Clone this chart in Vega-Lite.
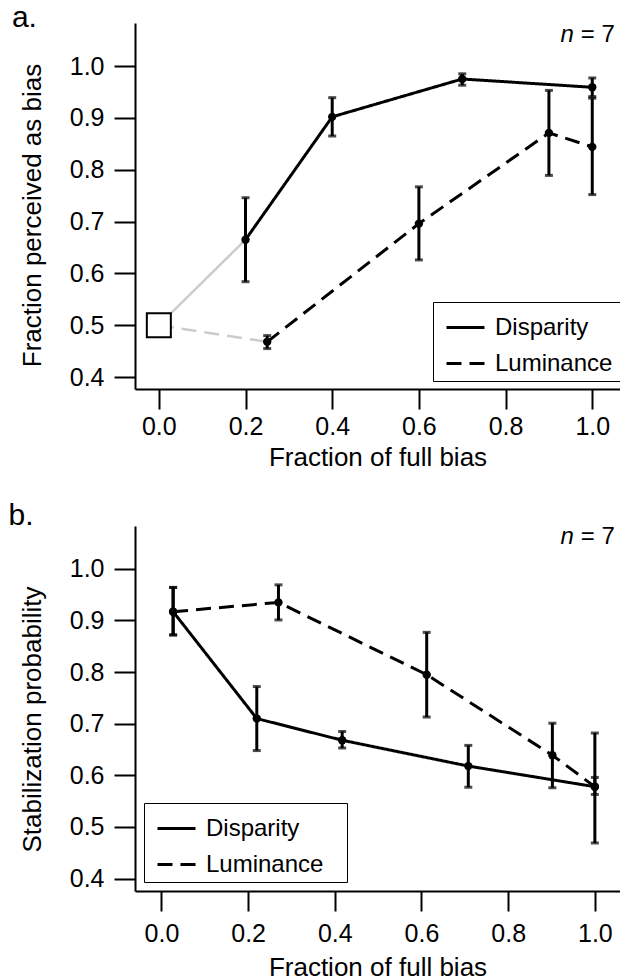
{
  "$schema": "https://vega.github.io/schema/vega-lite/v6.json",
  "padding": {"left": 8, "top": 2, "right": 0, "bottom": 0},
  "background": "white",
  "spacing": 30,
  "config": {
    "font": "Liberation Sans",
    "view": {"stroke": null},
    "axis": {"grid": false, "domainColor": "black", "domainWidth": 2, "tickColor": "black", "tickWidth": 2, "tickSize": 20, "labelColor": "black", "labelFontSize": 25, "labelFont": "Liberation Sans", "titleColor": "black", "titleFontSize": 26, "titleFontWeight": "normal", "titleFont": "Liberation Sans"},
    "axisX": {"labelPadding": 5, "titlePadding": 6},
    "axisY": {"labelPadding": 10, "titlePadding": 24, "tickSize": 21},
    "legend": {"labelFontSize": 24, "labelColor": "black", "labelFont": "Liberation Sans", "symbolType": "stroke", "symbolSize": 1444, "symbolStrokeWidth": 3, "symbolStrokeColor": "black", "strokeColor": "black", "fillColor": "white", "padding": 5, "rowPadding": 3, "symbolOffset": 7, "labelOffset": 9, "labelLimit": 300}
  },
  "datasets": {
    "a": [
      {"series": "Disparity", "x": 0.2, "y": 0.665, "lo": 0.584, "hi": 0.746},
      {"series": "Disparity", "x": 0.4, "y": 0.902, "lo": 0.865, "hi": 0.939},
      {"series": "Disparity", "x": 0.7, "y": 0.975, "lo": 0.963, "hi": 0.985},
      {"series": "Disparity", "x": 1.0, "y": 0.959, "lo": 0.941, "hi": 0.977},
      {"series": "Luminance", "x": 0.25, "y": 0.468, "lo": 0.455, "hi": 0.48},
      {"series": "Luminance", "x": 0.6, "y": 0.696, "lo": 0.626, "hi": 0.767},
      {"series": "Luminance", "x": 0.9, "y": 0.871, "lo": 0.789, "hi": 0.953},
      {"series": "Luminance", "x": 1.0, "y": 0.844, "lo": 0.752, "hi": 0.938}
    ],
    "a_conn": [
      {"series": "Disparity", "x": 0.0, "y": 0.5},
      {"series": "Disparity", "x": 0.2, "y": 0.665},
      {"series": "Luminance", "x": 0.0, "y": 0.5},
      {"series": "Luminance", "x": 0.25, "y": 0.468}
    ],
    "a_origin": [
      {"x": 0.0, "y": 0.5}
    ],
    "b": [
      {"series": "Disparity", "x": 0.027, "y": 0.917, "lo": 0.872, "hi": 0.964},
      {"series": "Disparity", "x": 0.22, "y": 0.71, "lo": 0.648, "hi": 0.772},
      {"series": "Disparity", "x": 0.417, "y": 0.668, "lo": 0.653, "hi": 0.685},
      {"series": "Disparity", "x": 0.708, "y": 0.618, "lo": 0.577, "hi": 0.658},
      {"series": "Disparity", "x": 1.0, "y": 0.578, "lo": 0.563, "hi": 0.596},
      {"series": "Luminance", "x": 0.027, "y": 0.917, "lo": 0.872, "hi": 0.964},
      {"series": "Luminance", "x": 0.27, "y": 0.935, "lo": 0.901, "hi": 0.969},
      {"series": "Luminance", "x": 0.612, "y": 0.795, "lo": 0.713, "hi": 0.877},
      {"series": "Luminance", "x": 0.902, "y": 0.639, "lo": 0.576, "hi": 0.701},
      {"series": "Luminance", "x": 1.0, "y": 0.578, "lo": 0.469, "hi": 0.682}
    ]
  },
  "vconcat": [
    {
      "width": 485,
      "height": 366,
      "layer": [
        {
          "data": {"name": "a_conn"},
          "mark": {"type": "line", "color": "#cccccc", "strokeWidth": 2.5},
          "encoding": {
            "x": {"field": "x", "type": "quantitative", "scale": {"domain": [-0.055, 1.064], "nice": false, "zero": false}, "axis": {"values": [0, 0.2, 0.4, 0.6, 0.8, 1.0], "format": ".1f", "labelPadding": 5, "titlePadding": 5}, "title": "Fraction of full bias"},
            "y": {"field": "y", "type": "quantitative", "scale": {"domain": [0.377, 1.083], "nice": false, "zero": false}, "axis": {"values": [0.4, 0.5, 0.6, 0.7, 0.8, 0.9, 1.0], "format": ".1f", "titleY": 192}, "title": "Fraction perceived as bias"},
            "strokeDash": {"field": "series", "type": "nominal", "scale": {"domain": ["Disparity", "Luminance"], "range": [[1, 0], [15, 8]]}, "legend": {"orient": "none", "legendX": 298, "legendY": 279, "title": null, "labelExpr": "datum.label + '\u2800'"}}
          }
        },
        {
          "data": {"name": "a"},
          "mark": {"type": "line", "color": "black", "strokeWidth": 3},
          "encoding": {
            "x": {"field": "x", "type": "quantitative", "title": "Fraction of full bias"},
            "y": {"field": "y", "type": "quantitative", "title": "Fraction perceived as bias"},
            "strokeDash": {"field": "series", "type": "nominal", "legend": {"orient": "none", "legendX": 298, "legendY": 279, "title": null, "labelExpr": "datum.label + '\u2800'"}}
          }
        },
        {
          "data": {"name": "a"},
          "mark": {"type": "rule", "color": "black", "strokeWidth": 3},
          "encoding": {
            "x": {"field": "x", "type": "quantitative", "title": "Fraction of full bias"},
            "y": {"field": "lo", "type": "quantitative", "title": "Fraction perceived as bias"},
            "y2": {"field": "hi"}
          }
        },
        {
          "data": {"name": "a"},
          "mark": {"type": "tick", "color": "black", "orient": "horizontal", "size": 8, "thickness": 3},
          "encoding": {
            "x": {"field": "x", "type": "quantitative", "title": "Fraction of full bias"},
            "y": {"field": "lo", "type": "quantitative", "title": "Fraction perceived as bias"}
          }
        },
        {
          "data": {"name": "a"},
          "mark": {"type": "tick", "color": "black", "orient": "horizontal", "size": 8, "thickness": 3},
          "encoding": {
            "x": {"field": "x", "type": "quantitative", "title": "Fraction of full bias"},
            "y": {"field": "hi", "type": "quantitative", "title": "Fraction perceived as bias"}
          }
        },
        {
          "data": {"name": "a"},
          "mark": {"type": "point", "filled": true, "color": "black", "size": 70, "opacity": 1},
          "encoding": {
            "x": {"field": "x", "type": "quantitative", "title": "Fraction of full bias"},
            "y": {"field": "y", "type": "quantitative", "title": "Fraction perceived as bias"}
          }
        },
        {
          "data": {"name": "a_origin"},
          "mark": {"type": "point", "shape": "square", "filled": true, "fill": "white", "stroke": "black", "strokeWidth": 2, "size": 576, "opacity": 1},
          "encoding": {
            "x": {"field": "x", "type": "quantitative", "title": "Fraction of full bias"},
            "y": {"field": "y", "type": "quantitative", "title": "Fraction perceived as bias"}
          }
        },
        {
          "data": {"values": [{}]},
          "mark": {"type": "text", "text": "a.", "align": "left", "baseline": "alphabetic", "fontSize": 30, "font": "Liberation Sans", "color": "black"},
          "encoding": {"x": {"datum": -0.339}, "y": {"datum": 1.0753}}
        },
        {
          "data": {"values": [{}]},
          "mark": {"type": "text", "text": "= 7", "align": "right", "baseline": "alphabetic", "fontSize": 24, "font": "Liberation Sans", "color": "black"},
          "encoding": {"x": {"datum": 1.052}, "y": {"datum": 1.047}}
        },
        {
          "data": {"values": [{}]},
          "mark": {"type": "text", "text": "n", "align": "right", "baseline": "alphabetic", "dx": -41, "fontSize": 24, "fontStyle": "italic", "font": "Liberation Sans", "color": "black"},
          "encoding": {"x": {"datum": 1.052}, "y": {"datum": 1.047}}
        }
      ]
    },
    {
      "width": 485,
      "height": 365,
      "layer": [
        {
          "data": {"name": "b"},
          "mark": {"type": "line", "color": "black", "strokeWidth": 3},
          "encoding": {
            "x": {"field": "x", "type": "quantitative", "scale": {"domain": [-0.061, 1.058], "nice": false, "zero": false}, "axis": {"values": [0, 0.2, 0.4, 0.6, 0.8, 1.0], "format": ".1f", "labelPadding": 10, "titlePadding": 8}, "title": "Fraction of full bias"},
            "y": {"field": "y", "type": "quantitative", "scale": {"domain": [0.376, 1.083], "nice": false, "zero": false}, "axis": {"values": [0.4, 0.5, 0.6, 0.7, 0.8, 0.9, 1.0], "format": ".1f", "titleY": 193}, "title": "Stabilization probability"},
            "strokeDash": {"field": "series", "type": "nominal", "scale": {"domain": ["Disparity", "Luminance"], "range": [[1, 0], [15, 8]]}, "legend": {"orient": "bottom-left", "offset": 9, "title": null, "labelExpr": "datum.label + '\u2800'"}}
          }
        },
        {
          "data": {"name": "b"},
          "mark": {"type": "rule", "color": "black", "strokeWidth": 3},
          "encoding": {
            "x": {"field": "x", "type": "quantitative", "title": "Fraction of full bias"},
            "y": {"field": "lo", "type": "quantitative", "title": "Stabilization probability"},
            "y2": {"field": "hi"}
          }
        },
        {
          "data": {"name": "b"},
          "mark": {"type": "tick", "color": "black", "orient": "horizontal", "size": 8, "thickness": 3},
          "encoding": {
            "x": {"field": "x", "type": "quantitative", "title": "Fraction of full bias"},
            "y": {"field": "lo", "type": "quantitative", "title": "Stabilization probability"}
          }
        },
        {
          "data": {"name": "b"},
          "mark": {"type": "tick", "color": "black", "orient": "horizontal", "size": 8, "thickness": 3},
          "encoding": {
            "x": {"field": "x", "type": "quantitative", "title": "Fraction of full bias"},
            "y": {"field": "hi", "type": "quantitative", "title": "Stabilization probability"}
          }
        },
        {
          "data": {"name": "b"},
          "mark": {"type": "point", "filled": true, "color": "black", "size": 70, "opacity": 1},
          "encoding": {
            "x": {"field": "x", "type": "quantitative", "title": "Fraction of full bias"},
            "y": {"field": "y", "type": "quantitative", "title": "Stabilization probability"}
          }
        },
        {
          "data": {"values": [{}]},
          "mark": {"type": "text", "text": "b.", "align": "left", "baseline": "alphabetic", "fontSize": 30, "font": "Liberation Sans", "color": "black"},
          "encoding": {"x": {"datum": -0.353}, "y": {"datum": 1.0855}}
        },
        {
          "data": {"values": [{}]},
          "mark": {"type": "text", "text": "= 7", "align": "right", "baseline": "alphabetic", "fontSize": 24, "font": "Liberation Sans", "color": "black"},
          "encoding": {"x": {"datum": 1.046}, "y": {"datum": 1.048}}
        },
        {
          "data": {"values": [{}]},
          "mark": {"type": "text", "text": "n", "align": "right", "baseline": "alphabetic", "dx": -41, "fontSize": 24, "fontStyle": "italic", "font": "Liberation Sans", "color": "black"},
          "encoding": {"x": {"datum": 1.046}, "y": {"datum": 1.048}}
        }
      ]
    }
  ]
}
